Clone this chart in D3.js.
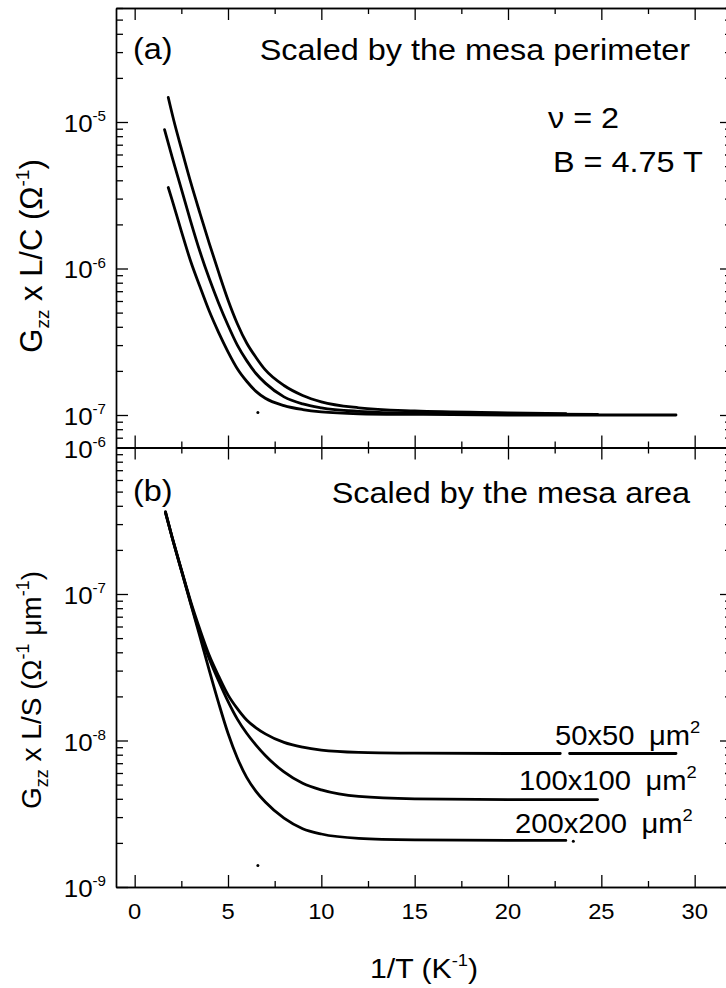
<!DOCTYPE html>
<html>
<head>
<meta charset="utf-8">
<script src="https://cdn.jsdelivr.net/npm/d3@7"></script>
<style>
  html, body { margin: 0; padding: 0; background: #fff; }
  svg { display: block; }
  text { font-family: "Liberation Sans", Arial, Helvetica, sans-serif; fill: #000; }
</style>
</head>
<body>
<svg id="chart" width="726" height="988"></svg>
<script>
// ---- data: [1/T (K^-1), conductance] ----
// (a) conductance scaled by the mesa perimeter, G_zz x L/C (Ohm^-1)
const perim200 = [[1.8,1.47e-5],[2.1,1.02e-5],[2.5,6.6e-6],[3.0,3.88e-6],[3.5,2.38e-6],[4.0,1.48e-6],[4.5,9.4e-7],[5.0,6.1e-7],[5.5,4.2e-7],[6.0,3.1e-7],[6.5,2.47e-7],[7.0,2.03e-7],[8.0,1.59e-7],[9.0,1.36e-7],[10,1.23e-7],[12,1.12e-7],[15,1.065e-7],[20,1.035e-7],[23.1,1.02e-7]];
const perim100 = [[1.6,8.87e-6],[2.0,5.8e-6],[2.5,3.5e-6],[3.0,2.1e-6],[3.5,1.3e-6],[4.0,8.5e-7],[4.5,5.8e-7],[5.0,4.1e-7],[5.5,3.0e-7],[6.0,2.35e-7],[6.5,1.92e-7],[7.0,1.65e-7],[8.0,1.33e-7],[9.0,1.19e-7],[10,1.12e-7],[12,1.06e-7],[15,1.03e-7],[20,1.02e-7],[24.8,1.01e-7]];
const perim50  = [[1.8,3.57e-6],[2.0,2.95e-6],[2.5,1.8e-6],[3.0,1.12e-6],[3.5,7.5e-7],[4.0,5.1e-7],[4.5,3.65e-7],[5.0,2.7e-7],[5.5,2.07e-7],[6.0,1.7e-7],[6.5,1.45e-7],[7.0,1.3e-7],[8.0,1.16e-7],[9.0,1.09e-7],[10,1.05e-7],[12,1.02e-7],[15,1.01e-7],[20,1.0e-7],[29,1.0e-7]];
const perimStray = [[6.6,1.04e-7]];

// (b) conductance scaled by the mesa area, G_zz x L/S (Ohm^-1 um^-1)
const area200 = [[1.65,3.65e-7],[2.0,2.45e-7],[2.5,1.45e-7],[3.0,8.6e-8],[3.5,5.1e-8],[4.0,3.0e-8],[4.5,1.8e-8],[5.0,1.12e-8],[5.5,7.6e-9],[6.0,5.6e-9],[6.5,4.5e-9],[7.0,3.8e-9],[8.0,2.95e-9],[9.0,2.5e-9],[10,2.3e-9],[12,2.15e-9],[15,2.1e-9],[20,2.08e-9],[23.1,2.08e-9]];
const area100 = [[1.65,3.6e-7],[2.0,2.45e-7],[2.5,1.46e-7],[3.0,8.7e-8],[3.5,5.4e-8],[4.0,3.6e-8],[4.5,2.55e-8],[5.0,1.85e-8],[5.5,1.4e-8],[6.0,1.12e-8],[6.5,9.3e-9],[7.0,7.9e-9],[8.0,6.1e-9],[9.0,5.1e-9],[10,4.6e-9],[12,4.15e-9],[15,4.0e-9],[20,3.95e-9],[24.8,3.95e-9]];
const area50  = [[1.65,3.6e-7],[2.0,2.46e-7],[2.5,1.47e-7],[3.0,8.9e-8],[3.5,5.7e-8],[4.0,3.8e-8],[4.5,2.75e-8],[5.0,2.05e-8],[5.5,1.65e-8],[6.0,1.38e-8],[6.5,1.22e-8],[7.0,1.11e-8],[8.0,9.7e-9],[9.0,9.0e-9],[10,8.6e-9],[12,8.3e-9],[15,8.2e-9],[20,8.15e-9],[22.8,8.15e-9],[23.0,null],[23.3,8.15e-9],[29,8.15e-9]];
const areaStray = [[6.6,1.4e-9],[23.5,2.05e-9]];

// size labels for (b)
const sizeLabels = ["50x50", "100x100", "200x200"];

// axis ticks
const xMajorTicks = [0, 5, 10, 15, 20, 25, 30];
const xMinorTicks = [2.5, 7.5, 12.5, 17.5, 22.5, 27.5];
const topDecades = [-7, -6, -5];
const botDecades = [-9, -8, -7, -6];

// ---- layout ----
const SX = 1.08;           // horizontal text stretch
const xL = 116, xR = 732;
const topP = [8, 447.5], botP = [447.5, 887];

const svg = d3.select("#chart");

const x = d3.scaleLinear().domain([-1, 32]).range([xL, xR]);
const yTop = d3.scaleLog().domain([6e-8, 6e-5]).range([topP[1], topP[0]]);
const yBot = d3.scaleLog().domain([1e-9, 1e-6]).range([botP[1], botP[0]]);

function logMinors(scale) {
  const [lo, hi] = scale.domain();
  const out = [];
  for (let e = Math.floor(Math.log10(lo)); e <= Math.ceil(Math.log10(hi)); e++) {
    for (let m = 2; m <= 9; m++) {
      const v = m * Math.pow(10, e);
      if (v >= lo * 0.999 && v <= hi * 1.001) out.push(v);
    }
  }
  return out;
}

function styleAxis(g) {
  g.attr("color", "#000").attr("stroke-width", 1.3);
  g.select(".domain").attr("stroke-width", 1.4);
}

function drawFrame(y, yr) {
  const majors = (y === yTop ? topDecades : botDecades).map(e => Math.pow(10, e));
  const minors = logMinors(y);
  // left
  svg.append("g").attr("transform", `translate(${xL},0)`)
    .call(d3.axisLeft(y).tickValues(majors).tickSize(-12).tickSizeOuter(0).tickFormat("")).call(styleAxis);
  svg.append("g").attr("transform", `translate(${xL},0)`)
    .call(d3.axisLeft(y).tickValues(minors).tickSize(-7).tickSizeOuter(0).tickFormat("")).call(styleAxis);
  // right
  svg.append("g").attr("transform", `translate(${xR},0)`)
    .call(d3.axisRight(y).tickValues(majors).tickSize(-12).tickSizeOuter(0).tickFormat("")).call(styleAxis);
  svg.append("g").attr("transform", `translate(${xR},0)`)
    .call(d3.axisRight(y).tickValues(minors).tickSize(-7).tickSizeOuter(0).tickFormat("")).call(styleAxis);
  // top and bottom edges
  svg.append("g").attr("transform", `translate(0,${yr[0]})`)
    .call(d3.axisTop(x).tickValues(xMajorTicks).tickSize(-12).tickSizeOuter(0).tickFormat("")).call(styleAxis);
  svg.append("g").attr("transform", `translate(0,${yr[0]})`)
    .call(d3.axisTop(x).tickValues(xMinorTicks).tickSize(-6).tickSizeOuter(0).tickFormat("")).call(styleAxis);
  svg.append("g").attr("transform", `translate(0,${yr[1]})`)
    .call(d3.axisBottom(x).tickValues(xMajorTicks).tickSize(-12).tickSizeOuter(0).tickFormat("")).call(styleAxis);
  svg.append("g").attr("transform", `translate(0,${yr[1]})`)
    .call(d3.axisBottom(x).tickValues(xMinorTicks).tickSize(-6).tickSizeOuter(0).tickFormat("")).call(styleAxis);

  // decade labels 10^n
  majors.forEach(v => {
    const t = svg.append("text")
      .attr("transform", `translate(106,${y(v) + 10}) scale(${SX},1)`)
      .attr("text-anchor", "end").attr("font-size", 24);
    t.append("tspan").text("10");
    t.append("tspan").attr("dy", -11).attr("font-size", 14).text(String(Math.round(Math.log10(v))));
  });
}

drawFrame(yTop, topP);
drawFrame(yBot, botP);

// x tick labels
xMajorTicks.forEach(v => {
  svg.append("text")
    .attr("transform", `translate(${x(v)},919) scale(${SX},1)`)
    .attr("text-anchor", "middle").attr("font-size", 22).text(v);
});

// curves
function drawCurves(y, series, strays) {
  const line = d3.line()
    .defined(d => d[1] != null)
    .x(d => x(d[0])).y(d => y(d[1]))
    .curve(d3.curveMonotoneX);
  series.forEach(s => {
    svg.append("path").attr("d", line(s))
      .attr("fill", "none").attr("stroke", "#000")
      .attr("stroke-width", 2.8).attr("stroke-linecap", "round").attr("stroke-linejoin", "round");
  });
  svg.selectAll(null).data(strays).enter().append("circle")
    .attr("cx", d => x(d[0])).attr("cy", d => y(d[1])).attr("r", 1.5).attr("fill", "#000");
}
drawCurves(yTop, [perim200, perim100, perim50], perimStray);
drawCurves(yBot, [area200, area100, area50], areaStray);

// text helper
function label(xp, yp, anchor, size) {
  return svg.append("text")
    .attr("transform", `translate(${xp},${yp}) scale(${SX},1)`)
    .attr("text-anchor", anchor).attr("font-size", size);
}

label(133, 59, "start", 30).text("(a)");
label(690, 60, "end", 30).text("Scaled by the mesa perimeter");
label(548, 128, "start", 30).text("\u03BD = 2");
label(553, 172, "start", 30).text("B = 4.75 T");

label(133, 501, "start", 30).text("(b)");
label(690, 503, "end", 30).text("Scaled by the mesa area");

// size labels beside the plateaus
const sizePos = [[555, 745], [519, 790], [515, 833]];
sizeLabels.forEach((s, i) => {
  const t = label(sizePos[i][0], sizePos[i][1], "start", 27);
  t.append("tspan").text(s);
  t.append("tspan").attr("dx", 6).text(" \u03BCm");
  t.append("tspan").attr("dy", -12).attr("font-size", 17).text("2");
});

// axis titles
const xt = svg.append("text")
  .attr("transform", `translate(424,978) scale(${SX},1)`)
  .attr("text-anchor", "middle").attr("font-size", 28);
xt.append("tspan").text("1/T (K");
xt.append("tspan").attr("dy", -12).attr("font-size", 17).text("-1");
xt.append("tspan").attr("dy", 12).text(")");

const yt1 = svg.append("text")
  .attr("transform", "translate(42,256) rotate(-90)")
  .attr("text-anchor", "middle").attr("font-size", 31);
yt1.append("tspan").text("G");
yt1.append("tspan").attr("dy", 7).attr("font-size", 19).text("zz");
yt1.append("tspan").attr("dy", -7).text(" x L/C (\u03A9");
yt1.append("tspan").attr("dy", -13).attr("font-size", 19).text("-1");
yt1.append("tspan").attr("dy", 13).text(")");

const yt2 = svg.append("text")
  .attr("transform", "translate(41,690) rotate(-90)")
  .attr("text-anchor", "middle").attr("font-size", 28);
yt2.append("tspan").text("G");
yt2.append("tspan").attr("dy", 7).attr("font-size", 18).text("zz");
yt2.append("tspan").attr("dy", -7).text(" x L/S (\u03A9");
yt2.append("tspan").attr("dy", -12).attr("font-size", 18).text("-1");
yt2.append("tspan").attr("dy", 12).text(" \u03BCm");
yt2.append("tspan").attr("dy", -12).attr("font-size", 18).text("-1");
yt2.append("tspan").attr("dy", 12).text(")");
</script>
</body>
</html>
